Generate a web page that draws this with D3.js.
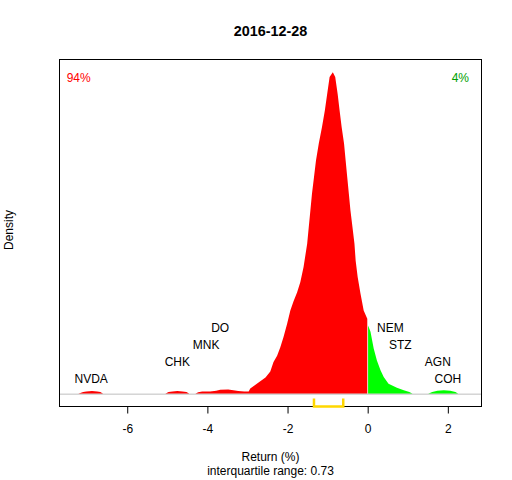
<!DOCTYPE html>
<html>
<head>
<meta charset="utf-8">
<script src="https://cdn.jsdelivr.net/npm/d3@7"></script>
<style>
  body { margin: 0; background: #fff; }
  text { font-family: "Liberation Sans", Arial, sans-serif; }
</style>
</head>
<body>
<svg id="chart"></svg>
<script>
// density of returns on the day (return %, density)
var returns = [-7.22, -7.10, -7.02, -6.88, -6.75, -6.67, -6.60,
  -5.05, -4.97, -4.87, -4.75, -4.62, -4.52, -4.45,
  -4.30, -4.23, -4.13, -3.93, -3.78, -3.68, -3.48, -3.35, -3.23, -3.08, -2.97,
  -2.93, -2.80, -2.68, -2.55, -2.43, -2.35, -2.26, -2.18, -2.10, -2.01, -1.93,
  -1.85, -1.76, -1.68, -1.60, -1.51, -1.47, -1.43, -1.39, -1.34, -1.29, -1.22,
  -1.14, -1.07, -1.01, -0.95, -0.87, -0.81, -0.75, -0.70, -0.65, -0.59, -0.55,
  -0.51, -0.47, -0.43, -0.38, -0.33, -0.30, -0.25, -0.18, -0.10, -0.01,
  0.01, 0.07, 0.15, 0.23, 0.32, 0.40, 0.52, 0.73, 0.90, 1.04, 1.12,
  1.51, 1.61, 1.74, 1.90, 2.06, 2.19, 2.26];
var density = [0, 0.004, 0.005, 0.006, 0.005, 0.004, 0,
  0, 0.004, 0.005, 0.006, 0.005, 0.004, 0,
  0, 0.003, 0.005, 0.005, 0.007, 0.009, 0.010, 0.008, 0.006, 0.005, 0.005,
  0.012, 0.021, 0.029, 0.038, 0.052, 0.074, 0.089, 0.109, 0.133, 0.164, 0.195,
  0.217, 0.238, 0.262, 0.297, 0.352, 0.391, 0.430, 0.469, 0.508, 0.547, 0.587,
  0.626, 0.664, 0.704, 0.743, 0.754, 0.743, 0.704, 0.664, 0.626, 0.587, 0.547,
  0.508, 0.469, 0.430, 0.391, 0.352, 0.312, 0.274, 0.235, 0.195, 0.176,
  0.160, 0.145, 0.106, 0.078, 0.055, 0.039, 0.023, 0.014, 0.008, 0.004, 0,
  0, 0.004, 0.007, 0.008, 0.007, 0.004, 0];

// labelled stocks in the tails
var stockNames = ["NVDA", "CHK", "MNK", "DO", "NEM", "STZ", "AGN", "COH"];
var stockReturns = [-6.90, -4.75, -4.03, -3.68, 0.565, 0.815, 1.75, 2.00];
var stockLevels = [0.035, 0.075, 0.115, 0.155, 0.155, 0.115, 0.075, 0.035];

var xTicks = [-6, -4, -2, 0, 2];
var xLim = [-7.30, 2.45];
var quartiles = [-1.34, -0.61];
var shareDown = "94%";
var shareUp = "4%";
var title = "2016-12-28";

var W = 512, H = 480;
var box = {left: 59.5, right: 481.5, top: 59.5, bottom: 406.5};

var svg = d3.select("#chart").attr("width", W).attr("height", H);
svg.append("rect").attr("width", W).attr("height", H).attr("fill", "#fff");

// R style 4% axis expansion
var xPad = (xLim[1] - xLim[0]) * 0.04;
var yMax = d3.max(density);
var sc_x = d3.scaleLinear().domain([xLim[0] - xPad, xLim[1] + xPad]).range([box.left, box.right]);
var sc_y = d3.scaleLinear().domain([-yMax * 0.04, yMax * 1.04]).range([box.bottom, box.top]);

var pts = returns.map(function(r, i) { return {x: r, y: density[i]}; });

var area = d3.area()
    .x(function(d) { return sc_x(d.x); })
    .y0(sc_y(0))
    .y1(function(d) { return sc_y(d.y); });

// losers red, gainers green
svg.append("path")
   .datum(pts.filter(function(d) { return d.x < 0; }))
   .attr("fill", "#ff0000")
   .attr("d", area);
svg.append("path")
   .datum(pts.filter(function(d) { return d.x > 0; }))
   .attr("fill", "#00ff00")
   .attr("d", area);

// zero density line
svg.append("line")
   .attr("x1", box.left).attr("x2", box.right)
   .attr("y1", sc_y(0) + 0.5).attr("y2", sc_y(0) + 0.5)
   .attr("stroke", "#bebebe").attr("stroke-width", 1);

// stock names
svg.selectAll("text.stock")
   .data(stockNames)
   .enter().append("text")
   .attr("class", "stock")
   .attr("x", function(d, i) { return sc_x(stockReturns[i]); })
   .attr("y", function(d, i) { return sc_y(stockLevels[i]); })
   .attr("dy", "0.35em")
   .attr("text-anchor", "middle")
   .attr("font-size", 12)
   .attr("fill", "#000")
   .text(function(d) { return d; });

// frame
svg.append("rect")
   .attr("x", box.left).attr("y", box.top)
   .attr("width", box.right - box.left).attr("height", box.bottom - box.top)
   .attr("fill", "none").attr("stroke", "#000").attr("stroke-width", 1);

// x axis
var ax = svg.append("g")
   .attr("transform", "translate(0," + box.bottom + ")")
   .call(d3.axisBottom(sc_x).tickValues(xTicks).tickSize(7).tickPadding(11)
          .tickFormat(function(d) { return d < 0 ? "-" + Math.abs(d) : d; }));
ax.select(".domain").remove();
ax.append("line")
  .attr("x1", sc_x(xTicks[0])).attr("x2", sc_x(xTicks[xTicks.length - 1]))
  .attr("stroke", "#000");
ax.selectAll("text").attr("font-size", 12).attr("font-family", null).attr("fill", "#000");
ax.selectAll(".tick line").attr("stroke", "#000");

// interquartile bracket, on top of the frame
var qy = box.bottom;
svg.append("path")
   .attr("d", "M" + sc_x(quartiles[0]) + "," + (qy - 8) + "V" + qy +
              "H" + sc_x(quartiles[1]) + "V" + (qy - 8))
   .attr("fill", "none")
   .attr("stroke", "#ffd700")
   .attr("stroke-width", 2.5);

var cx = (box.left + box.right) / 2;

svg.append("text")
   .attr("x", cx).attr("y", 36)
   .attr("text-anchor", "middle")
   .attr("font-size", 14.4).attr("font-weight", "bold")
   .text(title);

svg.append("text")
   .attr("x", 66.7).attr("y", 81.7)
   .attr("font-size", 12).attr("fill", "#ff0000")
   .text(shareDown);
svg.append("text")
   .attr("x", 469).attr("y", 81.7)
   .attr("text-anchor", "end")
   .attr("font-size", 12).attr("fill", "#00a000")
   .text(shareUp);

svg.append("text")
   .attr("x", cx).attr("y", 460.7)
   .attr("text-anchor", "middle").attr("font-size", 12)
   .text("Return (%)");
svg.append("text")
   .attr("x", cx).attr("y", 474.5)
   .attr("text-anchor", "middle").attr("font-size", 12)
   .text("interquartile range: " + d3.format(".2f")(quartiles[1] - quartiles[0]));

svg.append("text")
   .attr("transform", "translate(13,230) rotate(-90)")
   .attr("text-anchor", "middle").attr("font-size", 12)
   .text("Density");
</script>
</body>
</html>
